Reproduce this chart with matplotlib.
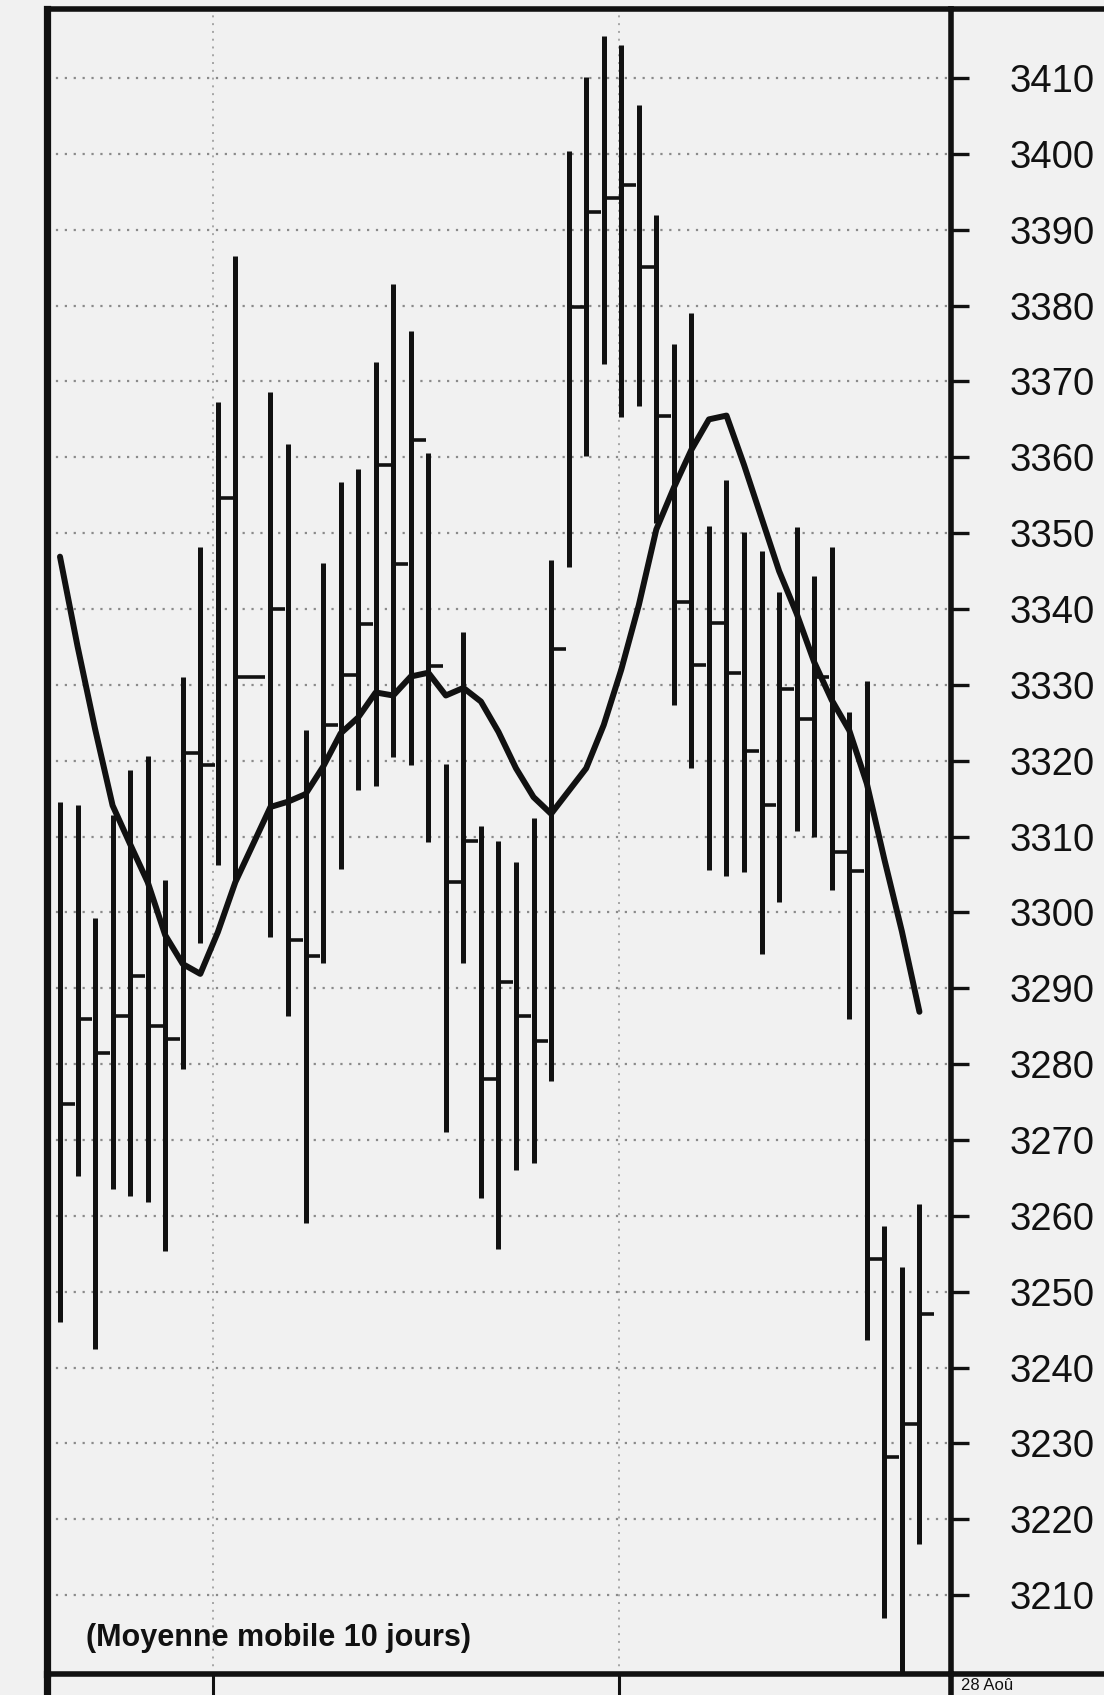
import numpy as np
import matplotlib.pyplot as plt
from matplotlib import transforms

# --- DONNÉES ---
# jour de bourse (le 11 manque : jour férié)
jours = [0, 1, 2, 3, 4, 5, 6, 7, 8, 9, 10,
         12, 13, 14, 15, 16, 17, 18, 19, 20, 21, 22, 23, 24, 25, 26, 27, 28, 29,
         30, 31, 32, 33, 34, 35, 36, 37, 38, 39, 40, 41, 42, 43, 44, 45, 46, 47, 48, 49]
hauts = [3314.6, 3314.1, 3299.2, 3312.8, 3318.8, 3320.6, 3304.3, 3331.0, 3348.2, 3367.3, 3386.5,
         3368.6, 3361.7, 3324.0, 3346.0, 3356.8, 3358.5, 3372.6, 3382.9, 3376.6, 3360.6, 3319.6, 3337.0,
         3311.4, 3309.4, 3306.7, 3312.4, 3346.4, 3400.4, 3410.2, 3415.6, 3414.3, 3406.4, 3391.9, 3375.0,
         3379.0, 3351.0, 3357.0, 3350.2, 3347.7, 3342.2, 3350.8, 3344.4, 3348.2, 3326.4, 3330.5, 3258.6,
         3253.2, 3261.6]
bas = [3246.0, 3265.2, 3242.4, 3263.6, 3262.6, 3261.8, 3255.3, 3279.4, 3296.0, 3306.2, 3304.0,
       3296.7, 3286.3, 3259.0, 3293.3, 3305.7, 3316.2, 3316.7, 3320.5, 3319.4, 3309.3, 3271.0, 3293.3,
       3262.4, 3255.6, 3266.0, 3267.0, 3277.8, 3345.6, 3360.2, 3372.3, 3365.3, 3366.8, 3351.4, 3327.3,
       3319.0, 3305.6, 3304.8, 3305.3, 3294.5, 3301.4, 3310.7, 3309.9, 3303.0, 3285.9, 3243.6, 3207.0,
       3199.0, 3216.7]
clotures = [3274.7, 3286.0, 3281.5, 3286.3, 3291.6, 3285.0, 3283.3, 3321.0, 3319.4, 3354.6, 3331.0,
            3340.0, 3296.3, 3294.3, 3324.7, 3331.3, 3338.0, 3359.0, 3345.9, 3362.3, 3332.5, 3304.0, 3309.4,
            3278.0, 3290.8, 3286.3, 3283.0, 3334.7, 3379.8, 3392.3, 3394.2, 3395.9, 3385.1, 3365.5, 3340.9,
            3332.6, 3338.1, 3331.5, 3321.3, 3314.1, 3329.4, 3325.5, 3331.0, 3307.9, 3305.5, 3254.3, 3228.2,
            3232.5, 3247.0]
moyenne_10j = [3346.9, 3335.1, 3324.2, 3314.1, 3309.0, 3304.0, 3297.0, 3293.2, 3291.9, 3297.4, 3304.0,
               3313.9, 3314.6, 3315.6, 3319.2, 3323.6, 3325.7, 3329.0, 3328.6, 3331.1, 3331.6, 3328.6, 3329.6,
               3327.8, 3323.8, 3319.0, 3315.2, 3313.0, 3316.0, 3319.0, 3324.7, 3332.0, 3340.5, 3350.5, 3356.0,
               3361.0, 3365.0, 3365.5, 3359.0, 3352.0, 3345.0, 3339.4, 3333.0, 3328.0, 3324.0, 3317.0, 3307.0,
               3297.5, 3286.9]
niveaux = list(range(3210, 3420, 10))
separations = [8.7, 31.9]   # lignes verticales pointillées (changements de période)

FOND = '#f1f1f1'
NOIR = '#111111'

plt.rcParams['font.family'] = ['Liberation Sans', 'DejaVu Sans']

fig = plt.figure(figsize=(11.04, 16.95), dpi=100, facecolor=FOND)
W, H = 1104, 1695
x0, x1, y_haut, y_bas = 47, 951, 9, 1674
ax = fig.add_axes([x0 / W, (H - y_bas) / H, (x1 - x0) / W, (y_bas - y_haut) / H])
ax.set_facecolor(FOND)

# barres haut-bas + cloture a droite
for i, j in enumerate(jours):
    ax.plot([j, j], [bas[i], hauts[i]], color=NOIR, lw=3.6, solid_capstyle='butt', zorder=3)
    suivant = jours[i + 1] if i + 1 < len(jours) else j + 1
    ax.plot([j, j + 0.85 * (suivant - j)], [clotures[i], clotures[i]], color=NOIR, lw=2.6,
            solid_capstyle='butt', zorder=3)

# moyenne mobile
ax.plot(jours, moyenne_10j, color=NOIR, lw=4.3, solid_joinstyle='round', solid_capstyle='round', zorder=4)

ax.set_xlim(-0.74, 50.8)
ax.set_ylim(3199.6, 3419.1)

# grille pointillée
ax.set_yticks(niveaux)
ax.grid(axis='y', linestyle=(0, (1, 3)), color='#8a8a8a', lw=1.6)
for s in separations:
    ax.axvline(s, linestyle=(0, (1, 3)), color='#a5a5a5', lw=1.4, zorder=1)
ax.set_xticks([])

ax.yaxis.tick_right()
ax.tick_params(axis='y', direction='out', length=13, width=2.4, pad=29, labelsize=27.5,
               colors=NOIR)

for cote, lw in [('left', 5.2), ('right', 4.0), ('top', 4.0), ('bottom', 4.0)]:
    ax.spines[cote].set_linewidth(lw)
    ax.spines[cote].set_color(NOIR)

# prolongements du cadre (bande des dates en bas, coupée)
fig.add_artist(plt.Line2D([x1 / W, 1], [(H - y_haut) / H] * 2, color=NOIR, lw=4.0))
fig.add_artist(plt.Line2D([x1 / W, 1], [(H - y_bas) / H] * 2, color=NOIR, lw=4.0))
fig.add_artist(plt.Line2D([x0 / W] * 2, [0, (H - y_bas) / H], color=NOIR, lw=5.2))
fig.add_artist(plt.Line2D([x1 / W] * 2, [0, (H - y_bas) / H], color=NOIR, lw=4.0))
trans = transforms.blended_transform_factory(ax.transData, ax.transAxes)
for s in separations:
    ax.plot([s, s], [0, -0.02], color=NOIR, lw=2.2, transform=trans, clip_on=False)

ax.text(0.043, 0.0216, '(Moyenne mobile 10 jours)', transform=ax.transAxes,
        fontsize=22, fontweight='bold', va='center', ha='left', color=NOIR)
fig.text(961 / W, (H - 1693) / H, '28 Aoû', fontsize=12, va='bottom', ha='left', color=NOIR)

fig.savefig('out.png', dpi=100, facecolor=FOND)
